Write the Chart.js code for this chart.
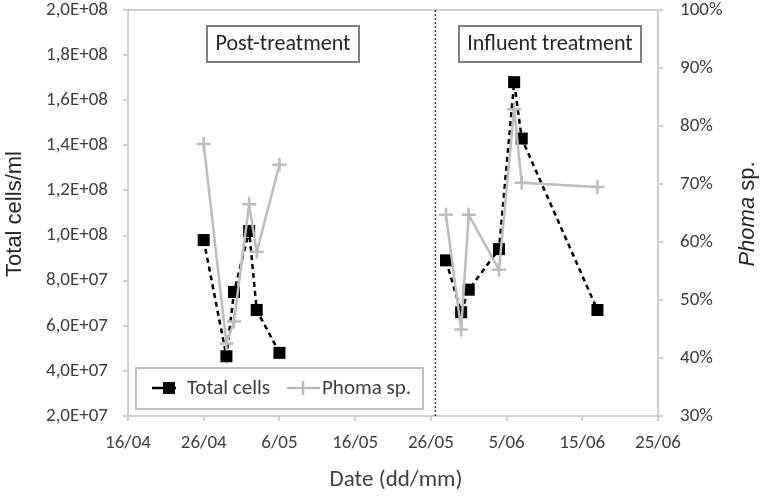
<!DOCTYPE html>
<html>
<head>
<meta charset="utf-8">
<script src="https://cdn.jsdelivr.net/npm/chart.js@4.4.0/dist/chart.umd.min.js"></script>
<style>
  body { margin: 0; background: #fff; }
  #wrap { width: 760px; height: 496px; }
</style>
</head>
<body>
<div id="wrap"><canvas id="cellsChart"></canvas></div>
<script>
// sampling dates (dd/mm) and values
var postDates = ['26/04', '29/04', '30/04', '2/05', '3/05', '6/05'];
var postCells = [9.8e7, 4.65e7, 7.5e7, 1.02e8, 6.7e7, 4.8e7];
var postPhoma = [76.9, 42.5, 46.3, 66.5, 58.3, 73.3];

var influentDates = ['28/05', '30/05', '31/05', '4/06', '6/06', '7/06', '17/06'];
var influentCells = [8.9e7, 6.6e7, 7.6e7, 9.4e7, 1.68e8, 1.43e8, 6.7e7];
var influentPhoma = [64.7, 44.9, 64.7, 55.2, 82.9, 70.2, 69.5];

var dateTickLabels = ['16/04', '26/04', '6/05', '16/05', '26/05', '5/06', '15/06', '25/06'];
var cellTickLabels = ['2,0E+07', '4,0E+07', '6,0E+07', '8,0E+07', '1,0E+08',
                      '1,2E+08', '1,4E+08', '1,6E+08', '1,8E+08', '2,0E+08'];
var phomaTickLabels = ['30%', '40%', '50%', '60%', '70%', '80%', '90%', '100%'];

// the treatment change, between 26/05 and 27/05
var switchDate = '26/05';

// days since 16/04
function dayOf(s) {
    var p = s.split('/');
    return (Date.UTC(2000, +p[1] - 1, +p[0]) - Date.UTC(2000, 3, 16)) / 864e5;
}
function toPoints(dates, vals) {
    return dates.map(function (d, i) { return { x: dayOf(d), y: vals[i] }; });
}

var tickFont = { family: 'Carlito, Lato, sans-serif', size: 19 };
var axisGray = '#d0d0d0';
var textGray = '#404040';

function cellsSet(dates, vals) {
    return {
        label: 'Total cells',
        data: toPoints(dates, vals),
        yAxisID: 'y',
        borderColor: '#000',
        borderDash: [5, 4],
        borderWidth: 2.5,
        pointStyle: 'rect',
        pointRadius: 8.5,
        pointBackgroundColor: '#000',
        pointBorderWidth: 0,
        order: 2
    };
}
function phomaSet(dates, vals) {
    return {
        label: 'Phoma sp.',
        data: toPoints(dates, vals),
        yAxisID: 'y2',
        borderColor: '#bdbdbd',
        borderWidth: 2.5,
        pointStyle: 'cross',
        pointRadius: 7,
        pointBorderColor: '#bdbdbd',
        pointBorderWidth: 2.5,
        order: 1
    };
}

// titles, separator line, text boxes and legend
var overlay = {
    id: 'overlay',
    beforeDatasetsDraw: function (chart) {
        var ctx = chart.ctx, a = chart.chartArea;
        ctx.save();
        // top border
        ctx.strokeStyle = axisGray;
        ctx.lineWidth = 2;
        ctx.beginPath();
        ctx.moveTo(a.left, a.top);
        ctx.lineTo(a.right, a.top);
        ctx.stroke();
        // dotted separator
        var x = chart.scales.x.getPixelForValue(dayOf(switchDate) + 0.6);
        ctx.strokeStyle = '#404040';
        ctx.lineWidth = 1.5;
        ctx.setLineDash([2, 2]);
        ctx.beginPath();
        ctx.moveTo(x, a.top);
        ctx.lineTo(x, a.bottom);
        ctx.stroke();
        ctx.restore();
    },
    afterDraw: function (chart) {
        var ctx = chart.ctx;
        ctx.save();

        // axis titles
        ctx.fillStyle = '#262626';
        ctx.textAlign = 'center';
        ctx.textBaseline = 'middle';
        ctx.font = '22px "Liberation Sans", Arial, sans-serif';
        ctx.save();
        ctx.translate(15, 214);
        ctx.rotate(-Math.PI / 2);
        ctx.fillText('Total cells/ml', 0, 0);
        ctx.restore();

        ctx.save();
        ctx.translate(748, 214);
        ctx.rotate(-Math.PI / 2);
        ctx.textAlign = 'left';
        var itFont = 'italic 22px "Liberation Sans", Arial, sans-serif';
        var rgFont = '22px "Liberation Sans", Arial, sans-serif';
        ctx.font = itFont;
        var w1 = ctx.measureText('Phoma').width;
        ctx.font = rgFont;
        var w2 = ctx.measureText(' sp.').width;
        var x0 = -(w1 + w2) / 2;
        ctx.font = itFont;
        ctx.fillText('Phoma', x0, 0);
        ctx.font = rgFont;
        ctx.fillText(' sp.', x0 + w1, 0);
        ctx.restore();

        ctx.fillStyle = textGray;
        ctx.font = '23px Carlito, Lato, sans-serif';
        ctx.fillText('Date (dd/mm)', 396, 480);

        // text boxes
        function label(txt, x1, x2) {
            ctx.fillStyle = '#fff';
            ctx.fillRect(x1, 26, x2 - x1, 36);
            ctx.strokeStyle = '#808080';
            ctx.lineWidth = 2;
            ctx.strokeRect(x1, 26, x2 - x1, 36);
            ctx.fillStyle = '#262626';
            ctx.font = '22px Carlito, Lato, sans-serif';
            ctx.textAlign = 'center';
            ctx.fillText(txt, (x1 + x2) / 2, 44);
        }
        label('Post-treatment', 207, 359);
        label('Influent treatment', 459, 641);

        // legend
        ctx.fillStyle = '#fff';
        ctx.fillRect(136, 368, 287, 41);
        ctx.strokeStyle = '#bfbfbf';
        ctx.lineWidth = 2;
        ctx.strokeRect(136, 368, 287, 41);

        ctx.strokeStyle = '#000';
        ctx.lineWidth = 2.5;
        ctx.beginPath();
        ctx.moveTo(152, 388);
        ctx.lineTo(176, 388);
        ctx.stroke();
        ctx.fillStyle = '#000';
        ctx.fillRect(163, 382, 12, 12);

        ctx.strokeStyle = '#bdbdbd';
        ctx.beginPath();
        ctx.moveTo(287, 388);
        ctx.lineTo(320, 388);
        ctx.moveTo(303, 381);
        ctx.lineTo(303, 395);
        ctx.stroke();

        ctx.fillStyle = textGray;
        ctx.font = '21px Carlito, Lato, sans-serif';
        ctx.textAlign = 'left';
        ctx.fillText('Total cells', 187, 389);
        ctx.fillText('Phoma sp.', 322, 389);

        ctx.restore();
    }
};

function noOverflow(scale) {
    scale.paddingTop = 0;
    scale.paddingBottom = 0;
}

var ctx = document.getElementById('cellsChart');
var chart = new Chart(ctx, {
    type: 'line',
    data: {
        datasets: [
            cellsSet(postDates, postCells),
            cellsSet(influentDates, influentCells),
            phomaSet(postDates, postPhoma),
            phomaSet(influentDates, influentPhoma)
        ]
    },
    options: {
        responsive: true,
        maintainAspectRatio: false,
        animation: false,
        layout: { padding: { top: 10, left: 0, right: 0, bottom: 0 } },
        plugins: {
            legend: { display: false },
            tooltip: { enabled: false }
        },
        scales: {
            x: {
                type: 'linear',
                position: 'bottom',
                min: 0,
                max: 70,
                ticks: {
                    stepSize: 10,
                    autoSkip: false,
                    maxRotation: 0,
                    padding: 11,
                    color: textGray,
                    font: tickFont,
                    callback: function (value, index) { return dateTickLabels[index]; }
                },
                grid: { drawOnChartArea: false, drawTicks: true, tickLength: 5, color: axisGray, lineWidth: 2 },
                border: { display: true, color: axisGray, width: 2 },
                afterFit: function (scale) { scale.height = 80; }
            },
            y: {
                position: 'left',
                min: 2e7,
                max: 2e8,
                ticks: {
                    stepSize: 2e7,
                    padding: 15,
                    color: textGray,
                    font: tickFont,
                    callback: function (value, index) { return cellTickLabels[index]; }
                },
                grid: { drawOnChartArea: false, drawTicks: true, tickLength: 5, color: axisGray, lineWidth: 2 },
                border: { display: true, color: axisGray, width: 2 },
                afterFit: function (scale) { scale.width = 128; noOverflow(scale); }
            },
            y2: {
                position: 'right',
                min: 30,
                max: 100,
                ticks: {
                    stepSize: 10,
                    padding: 17,
                    crossAlign: 'near',
                    color: textGray,
                    font: tickFont,
                    callback: function (value, index) { return phomaTickLabels[index]; }
                },
                grid: { drawOnChartArea: false, drawTicks: true, tickLength: 5, color: axisGray, lineWidth: 2 },
                border: { display: true, color: axisGray, width: 2 },
                afterFit: function (scale) { scale.width = 102; noOverflow(scale); }
            }
        }
    },
    plugins: [overlay]
});
</script>
</body>
</html>
